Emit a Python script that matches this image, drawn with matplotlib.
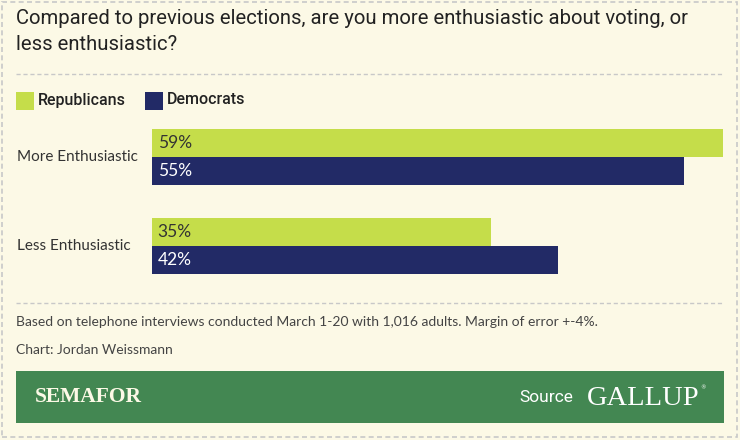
import matplotlib.pyplot as plt
from matplotlib.patches import Rectangle
from matplotlib.lines import Line2D

categories = ['More Enthusiastic', 'Less Enthusiastic']
republicans = [59, 35]
democrats = [55, 42]
series_names = ['Republicans', 'Democrats']

BG = '#fcf9e6'
GREEN = '#c5dd4a'
NAVY = '#222a66'
BAND = '#438752'

W, H = 740, 440
fig = plt.figure(figsize=(W / 100, H / 100), dpi=100, facecolor=BG)

def fx(px):
    return px / W

def fy(py):
    return 1 - py / H

# outer dashed frame
fig.patches.append(Rectangle((fx(2), fy(437)), fx(735), 435 / H, transform=fig.transFigure,
                             fill=False, ec='#c8c8c8', lw=1.2, ls=(0, (3, 2))))

fig.text(fx(16), fy(18), 'Compared to previous elections, are you more enthusiastic about voting, or',
         fontsize=14.6, family='Roboto', color='#222222', va='center')
fig.text(fx(16), fy(45), 'less enthusiastic?', fontsize=14.6, family='Roboto', color='#222222', va='center')

for yy in (74, 303):
    fig.lines.append(Line2D([fx(16), fx(724)], [fy(yy), fy(yy)], transform=fig.transFigure,
                            color='#c8c8c8', lw=1, ls=(0, (3, 2))))

# legend
for x, name, col in zip([16, 145], series_names, [GREEN, NAVY]):
    fig.patches.append(Rectangle((fx(x), fy(110)), fx(18), 18 / H, transform=fig.transFigure,
                                 fc=col, ec='none'))
    fig.text(fx(x + 22), fy(100), name, fontsize=11.5, family='Roboto', weight='medium',
             color='#222222', va='center')

# bars
ax = fig.add_axes([fx(152), fy(274), fx(723 - 152), (274 - 129) / H])
ax.set_facecolor('none')
h = 28 / 89
ypos = list(range(len(categories)))
ax.barh([y - h / 2 for y in ypos], republicans, height=h, color=GREEN)
ax.barh([y + h / 2 for y in ypos], democrats, height=h, color=NAVY)
for y, r, d in zip(ypos, republicans, democrats):
    ax.text(0.6, y - h / 2, f'{r}%', va='center', ha='left', fontsize=12.5, family='Lato', color='#333333')
    ax.text(0.6, y + h / 2, f'{d}%', va='center', ha='left', fontsize=12.5, family='Lato', color='white')
ax.set_xlim(0, max(republicans))
ax.set_ylim(1 + h, -h)
ax.axis('off')

for y, cat in zip([157, 246], categories):
    fig.text(fx(17), fy(y), cat, fontsize=11, family='Lato', color='#333333', va='center')

fig.text(fx(16), fy(322), 'Based on telephone interviews conducted March 1-20 with 1,016 adults. Margin of error +-4%.',
         fontsize=10, family='Lato', color='#444444', va='center')
fig.text(fx(16), fy(350), 'Chart: Jordan Weissmann', fontsize=10, family='Lato', color='#444444', va='center')

# footer band
fig.patches.append(Rectangle((fx(16), fy(423)), fx(708), 52 / H, transform=fig.transFigure,
                             fc=BAND, ec='none'))
fig.text(fx(35), fy(397), 'SEMAFOR', fontsize=15.5, family='Liberation Serif', weight='bold',
         color='#fcf9e6', va='center')
fig.text(fx(573), fy(397), 'Source', fontsize=12.5, family='Roboto', color='white', va='center', ha='right')
fig.text(fx(587), fy(398), 'GALLUP', fontsize=20.5, family='Liberation Serif', color='white', va='center')
fig.text(fx(700), fy(388), '®', fontsize=4, family='DejaVu Sans', color='white', va='center')

fig.savefig('out.png', dpi=100, facecolor=BG)
